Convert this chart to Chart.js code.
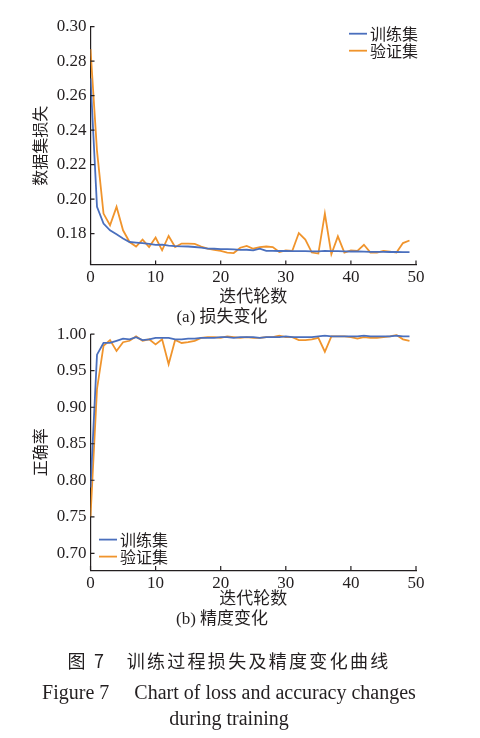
<!DOCTYPE html>
<html>
<head>
<meta charset="utf-8">
<script src="https://cdn.jsdelivr.net/npm/chart.js@4"></script>
<style>
    body { margin: 0; width: 480px; height: 738px; background: #fff; position: relative; overflow: hidden; }
    #chartLoss { position: absolute; left: 0; top: 0; }
    #chartAcc { position: absolute; left: 0; top: 320px; }
    .caption { position: absolute; left: 0; width: 458px; text-align: center; color: #231f20;
               font-family: 'Liberation Serif', 'Noto Sans CJK SC', serif; font-size: 20px; white-space: pre; }
    #cap1 { top: 647px; letter-spacing: 2.3px; font-family: 'Noto Sans CJK SC', sans-serif; font-size: 18px; }
    #cap2 { top: 676px; }
    #cap3 { top: 707px; }
</style>
</head>
<body>
<canvas id="chartLoss" width="480" height="328"></canvas>
<canvas id="chartAcc" width="480" height="310"></canvas>
<div class="caption" id="cap1">图 7　训练过程损失及精度变化曲线</div>
<div class="caption" id="cap2">Figure 7　 Chart of loss and accuracy changes</div>
<div class="caption" id="cap3">during training</div>

<script>
const epochs = [0, 1, 2, 3, 4, 5, 6, 7, 8, 9, 10, 11, 12, 13, 14, 15, 16, 17, 18, 19,
    20, 21, 22, 23, 24, 25, 26, 27, 28, 29, 30, 31, 32, 33, 34, 35, 36, 37, 38, 39,
    40, 41, 42, 43, 44, 45, 46, 47, 48, 49];
const seriesNames = ['训练集', '验证集'];

const trainLoss = [0.270, 0.1955, 0.1858, 0.1819, 0.1796, 0.1771, 0.1751, 0.1748, 0.1745, 0.1740,
    0.1735, 0.1736, 0.1730, 0.1727, 0.1726, 0.1725, 0.1722, 0.1718, 0.1713, 0.1712,
    0.1710, 0.1710, 0.1708, 0.1705, 0.1706, 0.1703, 0.1712, 0.1700, 0.1700, 0.1699,
    0.1699, 0.1698, 0.1698, 0.1698, 0.1697, 0.1697, 0.1700, 0.1698, 0.1698, 0.1697,
    0.1696, 0.1696, 0.1695, 0.1694, 0.1694, 0.1694, 0.1693, 0.1693, 0.1692, 0.1692];
const valLoss = [0.287, 0.228, 0.1916, 0.1848, 0.1955, 0.1819, 0.1751, 0.1725, 0.1765, 0.1722,
    0.1777, 0.1703, 0.1786, 0.1722, 0.1742, 0.1742, 0.1740, 0.1725, 0.1713, 0.1706,
    0.1699, 0.1690, 0.1687, 0.1718, 0.1728, 0.1712, 0.1722, 0.1725, 0.1722, 0.1693,
    0.1703, 0.1700, 0.1803, 0.1765, 0.1690, 0.1684, 0.1916, 0.1680, 0.1784, 0.1690,
    0.1703, 0.1700, 0.1735, 0.1690, 0.1690, 0.1700, 0.1695, 0.1690, 0.1745, 0.1760];

const trainAcc = [0.790, 0.972, 0.988, 0.988, 0.991, 0.994, 0.993, 0.996, 0.992, 0.993,
    0.995, 0.995, 0.995, 0.993, 0.993, 0.994, 0.994, 0.995, 0.995, 0.995,
    0.996, 0.996, 0.995, 0.996, 0.996, 0.996, 0.995, 0.996, 0.996, 0.996,
    0.997, 0.996, 0.996, 0.996, 0.996, 0.997, 0.998, 0.997, 0.997, 0.997,
    0.997, 0.997, 0.998, 0.997, 0.997, 0.997, 0.997, 0.998, 0.997, 0.997];
const valAcc = [0.750, 0.925, 0.984, 0.992, 0.977, 0.989, 0.991, 0.997, 0.991, 0.993,
    0.986, 0.993, 0.959, 0.992, 0.988, 0.989, 0.991, 0.995, 0.996, 0.996,
    0.995, 0.997, 0.996, 0.995, 0.996, 0.995, 0.995, 0.996, 0.996, 0.998,
    0.996, 0.996, 0.992, 0.992, 0.993, 0.995, 0.976, 0.997, 0.997, 0.997,
    0.996, 0.994, 0.996, 0.995, 0.995, 0.996, 0.997, 0.999, 0.993, 0.991];

const xTicks = [0, 10, 20, 30, 40, 50];
const lossTicks = [0.18, 0.20, 0.22, 0.24, 0.26, 0.28, 0.30];
const accTicks = [0.70, 0.75, 0.80, 0.85, 0.90, 0.95, 1.00];

const BLUE = '#4a6fbd';
const ORANGE = '#f0942c';
const INK = '#231f20';
const FONT = "'Liberation Serif', 'Noto Sans CJK SC', serif";

document.addEventListener('DOMContentLoaded', function() {
    lossChart();
    accChart();
});

// small ticks pointing into the plot, like the original figure
const innerTicks = {
    id: 'innerTicks',
    afterDatasetsDraw(chart) {
        const ctx = chart.ctx;
        const area = chart.chartArea;
        const xs = chart.scales.x, ys = chart.scales.y;
        ctx.save();
        ctx.strokeStyle = INK;
        ctx.lineWidth = 1.2;
        ctx.beginPath();
        xs.ticks.forEach(t => {
            const px = xs.getPixelForValue(t.value);
            ctx.moveTo(px, area.bottom);
            ctx.lineTo(px, area.bottom - 4);
        });
        ys.ticks.forEach(t => {
            const py = ys.getPixelForValue(t.value);
            ctx.moveTo(area.left, py);
            ctx.lineTo(area.left + 4, py);
        });
        ctx.stroke();
        ctx.restore();
    }
};

// legend drawn inside the plot area
const cornerLegend = {
    id: 'cornerLegend',
    afterDraw(chart, args, opts) {
        const ctx = chart.ctx;
        const area = chart.chartArea;
        let x0, y0;
        if (opts.corner === 'topRight') {
            x0 = area.right - 67;
            y0 = area.top + 7;
        } else {
            x0 = area.left + 8.5;
            y0 = area.bottom - 30.5;
        }
        ctx.save();
        ctx.font = "16px 'Noto Sans CJK SC', sans-serif";
        ctx.textBaseline = 'middle';
        ctx.fillStyle = INK;
        chart.data.datasets.forEach((ds, i) => {
            const y = y0 + i * 17;
            ctx.strokeStyle = ds.borderColor;
            ctx.lineWidth = 1.8;
            ctx.beginPath();
            ctx.moveTo(x0, y);
            ctx.lineTo(x0 + 18, y);
            ctx.stroke();
            ctx.fillText(ds.label, x0 + 21, y);
        });
        ctx.restore();
    }
};

function toPoints(values) {
    return values.map((v, i) => ({ x: epochs[i], y: v }));
}

function makeOptions(yMin, yMax, yTicks, yTitle, subTitle, xHeight, padTop, corner) {
    return {
        responsive: false,
        animation: false,
        layout: { padding: { left: 28, right: 64, top: padTop, bottom: 0 } },
        elements: { point: { radius: 0 }, line: { borderWidth: 1.8, tension: 0 } },
        scales: {
            x: {
                type: 'linear',
                min: 0,
                max: 50,
                afterBuildTicks: (scale) => { scale.ticks = xTicks.map(v => ({ value: v })); },
                afterFit: (scale) => { scale.height = xHeight; },
                grid: { display: true, drawOnChartArea: false, drawTicks: false },
                border: { display: true, color: INK, width: 1.2 },
                ticks: { padding: 3, color: INK, font: { family: FONT, size: 17 }, maxRotation: 0 },
                title: { display: true, text: '迭代轮数', color: INK, font: { family: FONT, size: 17 },
                         padding: { top: 0, bottom: 0 } }
            },
            y: {
                min: yMin,
                max: yMax,
                afterBuildTicks: (scale) => { scale.ticks = yTicks.map(v => ({ value: v })); },
                afterFit: (scale) => { scale.width = 62.5; },
                grid: { display: true, drawOnChartArea: false, drawTicks: false },
                border: { display: true, color: INK, width: 1.2 },
                ticks: { padding: 4, color: INK, font: { family: FONT, size: 17 },
                         callback: (v) => v.toFixed(2) },
                title: { display: true, text: yTitle, color: INK, font: { family: FONT, size: 16 } }
            }
        },
        plugins: {
            legend: { display: false },
            tooltip: { enabled: false },
            title: { display: true, position: 'bottom', text: subTitle, color: INK,
                     font: { family: FONT, size: 17, weight: 'normal' }, padding: 0 },
            cornerLegend: { corner: corner }
        }
    };
}

function lossChart() {
    const ctx = document.getElementById('chartLoss');
    new Chart(ctx, {
        type: 'line',
        data: {
            datasets: [
                { label: seriesNames[0], data: toPoints(trainLoss), borderColor: BLUE },
                { label: seriesNames[1], data: toPoints(valLoss), borderColor: ORANGE }
            ]
        },
        options: makeOptions(0.162, 0.30, lossTicks, '数据集损失', '(a) 损失变化', 43, 26.7, 'topRight'),
        plugins: [innerTicks, cornerLegend]
    });
}

function accChart() {
    const ctx = document.getElementById('chartAcc');
    new Chart(ctx, {
        type: 'line',
        data: {
            datasets: [
                { label: seriesNames[0], data: toPoints(trainAcc), borderColor: BLUE },
                { label: seriesNames[1], data: toPoints(valAcc), borderColor: ORANGE }
            ]
        },
        options: makeOptions(0.677, 1.0, accTicks, '正确率', '(b) 精度变化', 39.5, 13.3, 'bottomLeft'),
        plugins: [innerTicks, cornerLegend]
    });
}
</script>
</body>
</html>
